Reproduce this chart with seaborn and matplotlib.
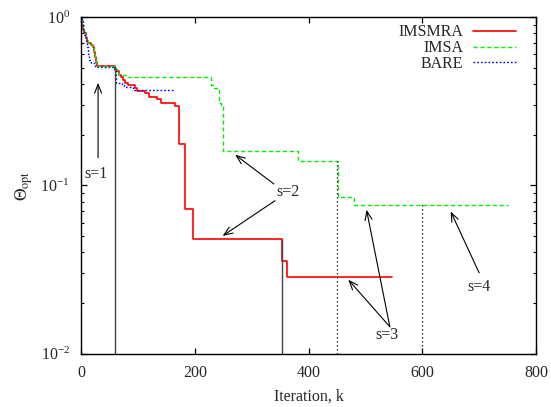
import matplotlib
matplotlib.use("Agg")
import matplotlib.pyplot as plt
import seaborn as sns
import pandas as pd

# Best objective value found so far (steps-post breakpoints)
imsmra_k = [0, 2, 4, 6, 8, 10, 13, 18, 21, 23, 25, 27, 28, 60, 62, 66, 70, 73, 77, 82,
            95, 98, 113, 120, 134, 140, 165, 173, 182, 197, 354, 362, 546]
imsmra_v = [0.97, 0.9, 0.84, 0.8, 0.75, 0.72, 0.70, 0.68, 0.66, 0.62, 0.58, 0.54, 0.512,
            0.49, 0.475, 0.455, 0.44, 0.423, 0.407, 0.395, 0.377, 0.365, 0.352, 0.336,
            0.325, 0.307, 0.298, 0.176, 0.0726, 0.048, 0.0356, 0.0285, 0.0285]

imsa_k = [0, 2, 4, 6, 8, 10, 13, 18, 21, 23, 25, 27, 28, 60, 62, 64, 67, 72, 81, 229, 233,
          243, 246, 250, 382, 452, 480, 750]
imsa_v = [0.97, 0.9, 0.84, 0.8, 0.75, 0.72, 0.70, 0.68, 0.66, 0.62, 0.58, 0.54, 0.512,
          0.5, 0.49, 0.465, 0.455, 0.45, 0.442, 0.395, 0.38, 0.31, 0.30, 0.159, 0.140,
          0.0858, 0.0769, 0.0769]

bare_k = [0, 3, 5, 8, 10, 12, 14, 18, 25, 56, 61, 72, 76, 91, 163]
bare_v = [0.97, 0.85, 0.78, 0.72, 0.66, 0.6, 0.556, 0.53, 0.508, 0.49, 0.406, 0.395,
          0.385, 0.368, 0.368]

# Restart markers: iteration and the level where each vertical line starts
restart_k = [60, 353, 450, 600]
restart_top = [0.51, 0.048, 0.14, 0.077]
restart_style = ["-", "-", ":", ":"]

# Stage labels: text position, arrow tails and heads
stage_text = ["s=1", "s=2", "s=3", "s=4"]
stage_text_k = [26, 364, 538, 700]
stage_text_v = [0.117, 0.0914, 0.0130, 0.025]
arrow_tail_k = [30, 339, 341, 543, 543, 700]
arrow_tail_v = [0.146, 0.102, 0.081, 0.01445, 0.01445, 0.0302]
arrow_head_k = [30, 271, 249, 470, 502, 650]
arrow_head_v = [0.406, 0.152, 0.0501, 0.0275, 0.0716, 0.070]

sns.set_style("ticks")
plt.rcParams["font.family"] = ["Liberation Serif", "DejaVu Serif"]
plt.rcParams["mathtext.fontset"] = "stix"
plt.rcParams["font.size"] = 11.5

fig = plt.figure(figsize=(5.51, 4.07), dpi=100)
ax = fig.add_axes([0.147, 0.131, 0.8258, 0.8272])

for k, v, col, ls, dash, lw, name in [
    (imsmra_k, imsmra_v, "#ff0000", "-", None, 1.2, "IMSMRA"),
    (imsa_k, imsa_v, "#00ee00", "--", (3, 2), 1.0, "IMSA"),
    (bare_k, bare_v, "#0000ff", ":", (1.2, 1.5), 1.0, "BARE"),
]:
    df = pd.DataFrame({"k": k, "v": v})
    line_kw = dict(drawstyle="steps-post", color=col, lw=lw, label=name)
    if dash is not None:
        line_kw["dashes"] = dash
    sns.lineplot(data=df, x="k", y="v", ax=ax, estimator=None, sort=False, **line_kw)

for k, top, ls in zip(restart_k, restart_top, restart_style):
    if ls == "-":
        ax.vlines(k, 0.01, top, colors="#444444", linestyles="solid", lw=1.0)
    else:
        ax.vlines(k, 0.01, top, colors="#222222", linestyles=(0, (1.2, 2.0)), lw=0.9)

for t, tk, tv in zip(stage_text, stage_text_k, stage_text_v):
    ax.text(tk, tv, t, ha="center", va="center", fontsize=11.5)

for tk, tv, hk, hv in zip(arrow_tail_k, arrow_tail_v, arrow_head_k, arrow_head_v):
    ax.annotate("", xy=(hk, hv), xytext=(tk, tv),
                arrowprops=dict(arrowstyle="->,head_length=0.55,head_width=0.22",
                                color="black", lw=0.8, shrinkA=0, shrinkB=0))

ax.set_yscale("log")
ax.set_xlim(0, 800)
ax.set_ylim(0.01, 1)
ax.set_xticks([0, 200, 400, 600, 800])
ax.set_xlabel("Iteration, k", fontsize=11.5, labelpad=6)
ax.set_ylabel(r"$\Theta_{\rm opt}$", fontsize=12.5, labelpad=4)

ax.tick_params(axis="both", which="major", direction="in", length=4.5, width=0.9,
               color="black", top=True, right=True, bottom=True, left=True,
               labelsize=11.5, pad=8)
ax.tick_params(axis="y", which="minor", direction="in", length=2.5, width=0.8,
               color="black", left=True, right=True)
ax.tick_params(axis="x", which="minor", bottom=False, top=False)
for s in ax.spines.values():
    s.set_linewidth(1.0)
    s.set_color("black")

ax.legend(loc="upper right", bbox_to_anchor=(0.956, 0.978), frameon=False,
          markerfirst=False, handlelength=2.7, handletextpad=0.6,
          labelspacing=-0.02, borderpad=0, borderaxespad=0, fontsize=11.5)

fig.savefig("out.png", dpi=100)
